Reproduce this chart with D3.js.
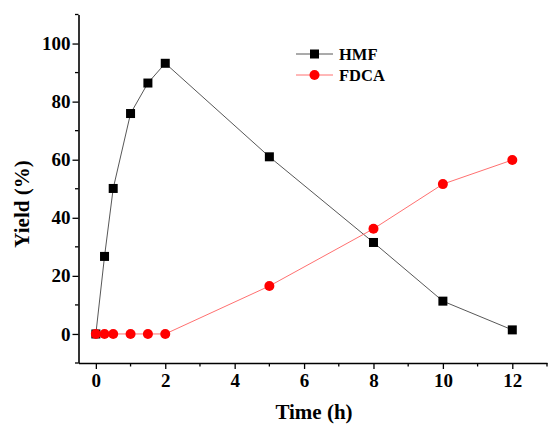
<!DOCTYPE html>
<html><head><meta charset="utf-8">
<script src="https://cdn.jsdelivr.net/npm/d3@7"></script>
<style>body{margin:0;background:#fff}svg{display:block}svg text{font-family:"Liberation Serif","Times New Roman",serif !important;font-weight:bold}</style>
</head><body><svg id="c" width="548" height="424"></svg>
<script>
const times = [0, 0.25, 0.5, 1, 1.5, 2, 5, 8, 10, 12];
const hmf = [0, 26.7, 50.1, 75.9, 86.4, 93.2, 61, 31.5, 11.3, 1.4];
const fdca = [0, 0, 0, 0, 0, 0, 16.5, 36.2, 51.6, 59.9];
const xTicks = [0, 2, 4, 6, 8, 10, 12];
const yTicks = [0, 20, 40, 60, 80, 100];
const seriesNames = ["HMF", "FDCA"];

const svg = d3.select("#c");
const x = d3.scaleLinear().domain([-0.5, 13]).range([78.5, 547]);
const y = d3.scaleLinear().domain([-10, 110]).range([363, 14.5]);

const g = svg.append("g");
const xMinor = d3.range(0, 13.01, 1).filter(v => !xTicks.includes(v));
const yMinor = d3.range(-10, 110.01, 10).filter(v => !yTicks.includes(v));
g.selectAll(".xm").data(xMinor).enter().append("line")
  .attr("x1", d => x(d)).attr("x2", d => x(d)).attr("y1", y(-10)).attr("y2", y(-10) + 3.5)
  .attr("stroke", "#000").attr("stroke-width", 1.3);
g.selectAll(".ym").data(yMinor).enter().append("line")
  .attr("x1", x(-0.5)).attr("x2", x(-0.5) - 3.5).attr("y1", d => y(d)).attr("y2", d => y(d))
  .attr("stroke", "#000").attr("stroke-width", 1.3);

const xAxis = svg.append("g").attr("transform", `translate(0,${y(-10)})`)
  .call(d3.axisBottom(x).tickValues(xTicks).tickSize(6).tickSizeOuter(0).tickPadding(5));
const yAxis = svg.append("g").attr("transform", `translate(${x(-0.5)},0)`)
  .call(d3.axisLeft(y).tickValues(yTicks).tickSize(6).tickSizeOuter(0).tickPadding(2));
[xAxis, yAxis].forEach(a => {
  a.attr("font-size", null).attr("font-family", null);
  a.select(".domain").attr("stroke", "#000").attr("stroke-width", 1.6);
  a.selectAll(".tick line").attr("stroke", "#000").attr("stroke-width", 1.3);
  a.selectAll("text").style("font-size", "19px").attr("fill", "#000");
});

const line = d3.line().x((d, i) => x(times[i])).y(d => y(d));
svg.append("path").datum(hmf).attr("d", line).attr("fill", "none").attr("stroke", "#444").attr("stroke-width", 0.9);
svg.append("path").datum(fdca).attr("d", line).attr("fill", "none").attr("stroke", "#ff6060").attr("stroke-width", 0.9);

svg.selectAll(".sq").data(hmf).enter().append("rect")
  .attr("x", (d, i) => x(times[i]) - 4.5).attr("y", d => y(d) - 4.5)
  .attr("width", 9).attr("height", 9).attr("fill", "#000");
svg.selectAll(".ci").data(fdca).enter().append("circle")
  .attr("cx", (d, i) => x(times[i])).attr("cy", d => y(d)).attr("r", 5).attr("fill", "#ff0000");

const leg = svg.append("g");
const ly = [54, 75];
seriesNames.forEach((n, i) => {
  leg.append("line").attr("x1", 296).attr("x2", 333).attr("y1", ly[i]).attr("y2", ly[i])
    .attr("stroke", i ? "#ff6060" : "#444").attr("stroke-width", 0.9);
  if (i === 0) leg.append("rect").attr("x", 314.5 - 4.5).attr("y", ly[i] - 4.5).attr("width", 9).attr("height", 9).attr("fill", "#000");
  else leg.append("circle").attr("cx", 314.5).attr("cy", ly[i]).attr("r", 5).attr("fill", "#ff0000");
  leg.append("text").attr("x", 339).attr("y", ly[i] + 6).style("font-size", "16.5px").text(n);
});

svg.append("text").attr("x", 314).attr("y", 419).attr("text-anchor", "middle").style("font-size", "21px").text("Time (h)");
svg.append("text").attr("transform", "translate(29,204) rotate(-90)").attr("text-anchor", "middle").style("font-size", "21px").text("Yield (%)");
</script></body></html>
